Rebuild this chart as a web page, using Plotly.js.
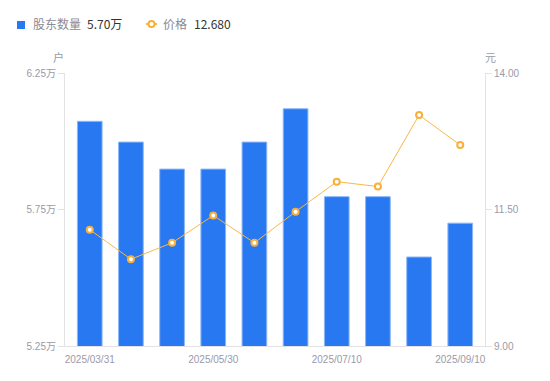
<!DOCTYPE html>
<html>
<head>
<meta charset="utf-8">
<script src="https://cdn.plot.ly/plotly-3.0.1.min.js"></script>
<style>html,body{margin:0;padding:0;background:#fff;}#chart{width:550px;height:381px;}</style>
</head>
<body>
<div id="chart"></div>
<script>
var dates = ["2025/03/31","2025/04/10","2025/04/30","2025/05/30","2025/06/10","2025/06/30","2025/07/10","2025/07/31","2025/08/31","2025/09/10"];
var holders = [6.073, 5.997, 5.898, 5.898, 5.997, 6.119, 5.797, 5.797, 5.576, 5.700];
var prices = [11.13, 10.59, 10.89, 11.39, 10.89, 11.46, 12.01, 11.92, 13.23, 12.68];
var xTickLabels = ["2025/03/31","2025/05/30","2025/07/10","2025/09/10"];
var leftTicks = [5.25, 5.75, 6.25];
var rightTicks = [9.00, 11.50, 14.00];

var font = "Liberation Sans, Arial, Noto Sans CJK SC, sans-serif";
var cjk = "Noto Sans CJK SC, Liberation Sans, sans-serif";

var traces = [
  {type:'bar', x:dates, y:holders, name:'股东数量', yaxis:'y',
   marker:{color:'#2878f2', line:{color:'#8db7f7', width:1}},
   hoverinfo:'skip'},
  {type:'scatter', mode:'lines+markers', x:dates, y:prices, name:'价格', yaxis:'y2',
   line:{color:'#f8b84a', width:1},
   marker:{symbol:'circle', size:6, color:'#ffffff', line:{color:'#f8b03a', width:2}},
   hoverinfo:'skip'}
];

var layout = {
  width:550, height:381,
  margin:{l:65, r:65, t:73, b:35, pad:0},
  paper_bgcolor:'#fff', plot_bgcolor:'#fff',
  showlegend:false,
  bargap:0.4,
  font:{family:font, size:10, color:'#9a9aa8'},
  xaxis:{type:'category', tickvals:xTickLabels, ticktext:xTickLabels, automargin:false,
         showgrid:false, zeroline:false, showline:true, linecolor:'#e3e3e6', linewidth:1,
         ticks:'outside', ticklen:4, tickcolor:'rgba(0,0,0,0)',
         tickfont:{size:10, color:'#9a9aa8', family:font}},
  yaxis:{range:[5.25,6.25], tickvals:leftTicks, ticktext:leftTicks.map(function(v){return v.toFixed(2)+'万';}),
         automargin:false,
         showgrid:false, zeroline:false, showline:true, linecolor:'#e3e3e6', linewidth:1,
         ticks:'outside', ticklen:6, tickcolor:'#e3e3e6',
         tickfont:{size:10, color:'#9a9aa8', family:font}},
  yaxis2:{range:[9,14], tickvals:rightTicks, ticktext:rightTicks.map(function(v){return v.toFixed(2);}),
          overlaying:'y', side:'right', automargin:false,
          showgrid:false, zeroline:false, showline:true, linecolor:'#e3e3e6', linewidth:1,
          ticks:'outside', ticklen:6, tickcolor:'#e3e3e6',
          tickfont:{size:10, color:'#9a9aa8', family:font}},
  shapes:[
    {type:'rect', xref:'paper', yref:'paper', x0:-48/420, x1:-40/420, y0:(346-29)/273, y1:(346-21)/273,
     fillcolor:'#2878f2', line:{width:0}},
    {type:'line', xref:'paper', yref:'paper', x0:(146-65)/420, x1:(157-65)/420, y0:(346-24)/273, y1:(346-24)/273,
     line:{color:'#f8b84a', width:2}}
  ],
  annotations:[
    {xref:'paper', yref:'paper', x:(31-65)/420, y:(346-24)/273, xanchor:'left', yanchor:'middle', showarrow:false,
     text:'股东数量', font:{family:cjk, size:12, color:'#8a8a96'}},
    {xref:'paper', yref:'paper', x:(85-65)/420, y:(346-24)/273, xanchor:'left', yanchor:'middle', showarrow:false,
     text:'5.70万', font:{family:cjk, size:12, color:'#333'}},
    {xref:'paper', yref:'paper', x:(161-65)/420, y:(346-24)/273, xanchor:'left', yanchor:'middle', showarrow:false,
     text:'价格', font:{family:cjk, size:12, color:'#8a8a96'}},
    {xref:'paper', yref:'paper', x:(192-65)/420, y:(346-24)/273, xanchor:'left', yanchor:'middle', showarrow:false,
     text:'12.680', font:{family:cjk, size:12, color:'#333'}},
    {xref:'paper', yref:'paper', x:(58-65)/420, y:(346-57)/273, xanchor:'center', yanchor:'middle', showarrow:false,
     text:'户', font:{family:cjk, size:11, color:'#9a9aa8'}},
    {xref:'paper', yref:'paper', x:(490-65)/420, y:(346-57)/273, xanchor:'center', yanchor:'middle', showarrow:false,
     text:'元', font:{family:cjk, size:11, color:'#9a9aa8'}}
  ]
};

layout.shapes.push({type:'circle', xref:'paper', yref:'paper',
  x0:(148.5-65)/420, x1:(154.5-65)/420, y0:(346-27)/273, y1:(346-21)/273,
  fillcolor:'#fff', line:{color:'#f8b03a', width:2}});

Plotly.newPlot('chart', traces, layout, {displayModeBar:false, staticPlot:true});
</script>
</body>
</html>
